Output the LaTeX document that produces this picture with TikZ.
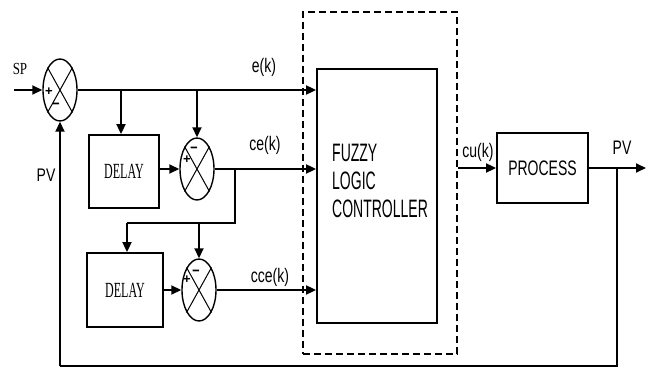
\documentclass[tikz,border=0pt]{standalone}
\usepackage{fontspec}
\usepackage{graphicx}
\setmainfont{Liberation Sans}
\newfontfamily\serifft{Liberation Serif}
\usetikzlibrary{arrows.meta,shapes.geometric}
\newcommand{\stz}[2]{\scalebox{1}[#1]{#2}}
\tikzset{
 lbl/.style={font=\fontsize{14}{16}\selectfont, inner sep=0pt},
 sgn/.style={font=\fontsize{13}{14}\selectfont\bfseries, inner sep=0pt},
 blk/.style={draw, line width=1.8pt, inner sep=0pt},
 sumj/.style={draw, ellipse, line width=1.4pt, minimum width=34pt, minimum height=62pt, inner sep=0pt},
 wire/.style={line width=1.8pt},
 arr/.style={wire, -{Triangle[length=10pt,width=9pt]}},
 xline/.style={line width=1pt},
}
\begin{document}
\begin{tikzpicture}[x=1pt,y=-1pt]
\useasboundingbox (0,0) rectangle (654,369);
% blocks
\node[blk, minimum width=70pt, minimum height=73pt] (d1) at (124,171.5) {\serifft\fontsize{12}{13}\selectfont\stz{1.8}{DELAY}};
\node[blk, minimum width=76pt, minimum height=74pt] (d2) at (125,290) {\serifft\fontsize{12}{13}\selectfont\stz{1.8}{DELAY}};
\node[blk, minimum width=120pt, minimum height=254pt] (flc) at (377,196) {};
\node[draw, line width=1.3pt, dash pattern=on 7pt off 4pt, minimum width=154pt, minimum height=342pt] (db) at (380,183) {};
\node[blk, minimum width=91pt, minimum height=70pt] (pr) at (542.5,168) {\fontsize{14}{16}\selectfont\stz{1.5}{PROCESS}};
\node[lbl, anchor=west] (t1) at (332,153) {\stz{1.8}{FUZZY}};
\node[lbl, anchor=west] (t2) at (332,181) {\stz{1.8}{LOGIC}};
\node[lbl, anchor=west] (t3) at (332,209) {\stz{1.8}{CONTROLLER}};
% summing junctions
\node[sumj] (s1) at (60,90) {};
\node[sumj] (s2) at (197,169) {};
\node[sumj] (s3) at (199,290) {};
\foreach \s in {s1,s2,s3}{
  \draw[xline] (\s.61) -- (\s.-119);
  \draw[xline] (\s.119) -- (\s.-61);
}
\node[sgn] (p1) at (49,92) {+};
\node[sgn] (m1) at (56,106) {\stz{1.3}{–}};
\node[sgn] (m2) at (194,150) {\stz{1.3}{–}};
\node[sgn] (p2) at (187,160) {+};
\node[sgn] (m3) at (196,273) {\stz{1.3}{–}};
\node[sgn] (p3) at (187,280) {+};
% labels
\node[inner sep=0pt, font=\serifft\fontsize{13}{14}\selectfont] (sp) at (20,69) {\stz{1.3}{SP}};
\node[lbl] (pvl) at (46,175) {\stz{1.3}{PV}};
\node[lbl] (ek) at (264,67) {\stz{1.4}{e(k)}};
\node[lbl] (cek) at (265,145) {\stz{1.4}{ce(k)}};
\node[lbl] (ccek) at (270,277) {\stz{1.4}{cce(k)}};
\node[lbl] (cuk) at (478,152) {\stz{1.4}{cu(k)}};
\node[lbl] (pvr) at (622,148) {\stz{1.4}{PV}};
% connectors
\coordinate (spin) at (14,90);
\draw[arr] (spin) -- (s1.west);
\draw[arr] (s1.east) -- (s1.east -| flc.west);
\coordinate (b1) at (121,90);
\draw[arr] (b1) -- (b1 |- d1.north);
\coordinate (b2) at (197,90);
\draw[arr] (b2) -- (s2.north);
\draw[arr] (d1.east |- s2.west) -- (s2.west);
\draw[arr] (s2.east) -- (s2.east -| flc.west);
\coordinate (b3) at (235,169);
\coordinate (c1) at (235,223);
\coordinate (c2) at (127,223);
\draw[wire] (b3) -- (c1) -- (c2);
\draw[arr] (c2) -- (c2 |- d2.north);
\coordinate (c3) at (199,223);
\draw[arr] (c3) -- (s3.north);
\draw[arr] (d2.east |- s3.west) -- (s3.west);
\draw[arr] (s3.east) -- (s3.east -| flc.west);
\draw[arr] (db.east |- pr.west) -- (pr.west);
\coordinate (pvout) at (646,168);
\draw[arr] (pr.east) -- (pvout);
\coordinate (f1) at (617,168);
\coordinate (f2) at (617,366);
\coordinate (f3) at (60,366);
\draw[wire] (f1) -- (f2) -- (f3);
\draw[arr] (f3) -- (s1.south);
\end{tikzpicture}
\end{document}
